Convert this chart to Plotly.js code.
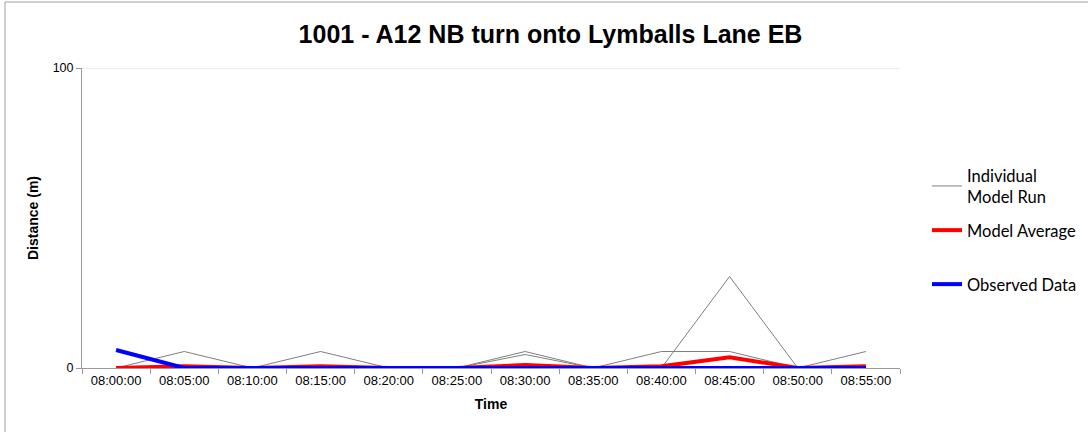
<!DOCTYPE html>
<html>
<head>
<meta charset="utf-8">
<script src="https://cdn.plot.ly/plotly-3.0.1.min.js"></script>
<style>html,body{margin:0;padding:0;background:#fff;}#chart{width:1088px;height:432px;}</style>
</head>
<body>
<div id="chart"></div>
<script>
const times = ["08:00:00","08:05:00","08:10:00","08:15:00","08:20:00","08:25:00","08:30:00","08:35:00","08:40:00","08:45:00","08:50:00","08:55:00"];
const run1 = [0,5.5,0,0,0,0,5.5,0,0,0,0,0];
const run2 = [0,0,0,5.5,0,0,0,0,0,0,0,0];
const run3 = [0,0,0,0,0,0,4.5,0,5.5,5.5,0,0];
const run4 = [0,0,0,0,0,0,0,0,0,30.5,0,5.5];
const run5 = [0,0,0,0,0,0,0,0,0,0,0,0];
const run6 = [0,0,0,0,0,0,0,0,0,0,0,0];
const run7 = [0,0,0,0,0,0,0,0,0,0,0,0];
const run8 = [0,0,0,0,0,0,0,0,0,0,0,0];
const run9 = [0,0,0,0,0,0,0,0,0,0,0,0];
const run10 = [0,0,0,0,0,0,0,0,0,0,0,0];
const modelAverage = [0,0.55,0,0.55,0,0,1.0,0,0.55,3.6,0,0.55];
const observed = [6,0,0,0,0,0,0,0,0,0,0,0];
const yTicks = [0,100];
const runs = [run1,run2,run3,run4,run5,run6,run7,run8,run9,run10];

const traces = runs.map((r,i)=>({
  x: times, y: r, type:'scatter', mode:'lines',
  name:'Individual<br>Model Run', legend:'legend', showlegend: i===0,
  line:{color:'#7f7f7f', width:1}
}));
traces.push({x:times, y:modelAverage, type:'scatter', mode:'lines', name:'Model Average', legend:'legend2', line:{color:'#ff0000', width:4}});
traces.push({x:times, y:observed, type:'scatter', mode:'lines', name:'Observed Data', legend:'legend3', line:{color:'#0000ff', width:4}});

const legFont = {family:'Lato, Noto Sans', size:16.5, color:'#000'};
const legBase = {x:1.033, xanchor:'left', yanchor:'top', font:legFont, bgcolor:'rgba(0,0,0,0)'};
const axFont = {family:'Liberation Sans, Arial', size:13, color:'#000'};
const titleFont = {family:'Liberation Sans, Arial', size:14, color:'#000'};

const layout = {
  width:1088, height:432,
  margin:{l:82, r:188, t:68, b:64, autoexpand:false},
  paper_bgcolor:'#fff', plot_bgcolor:'#fff',
  title:{text:'<b>1001 - A12 NB turn onto Lymballs Lane EB</b>', font:{family:'Liberation Sans, Arial', size:25, color:'#000'}, xref:'container', x:0.506, xanchor:'center', yref:'container', y:1-34/432, yanchor:'middle'},
  xaxis:{type:'category', range:[-0.5, times.length-0.5], tickson:'boundaries', ticks:'outside', ticklen:5, tickcolor:'#9a9a9a',
    showline:true, linecolor:'#9a9a9a', linewidth:1, showgrid:false, zeroline:false,
    tickfont:axFont,
    title:{text:'<b>Time</b>', font:titleFont, standoff:12}},
  yaxis:{range:[0,100], tickvals:yTicks, ticks:'outside', ticklen:5, tickcolor:'#9a9a9a',
    showline:true, linecolor:'#9a9a9a', linewidth:1, showgrid:true, gridcolor:'#d9d9d9', zeroline:false,
    tickfont:{family:'Liberation Sans, Arial', size:12.5, color:'#000'},
    title:{text:'<b>Distance (m)</b>', font:titleFont, standoff:10}},
  legend:Object.assign({}, legBase, {y:0.70}),
  legend2:Object.assign({}, legBase, {y:0.517}),
  legend3:Object.assign({}, legBase, {y:0.337}),
  shapes:[
    {type:'rect', xref:'paper', yref:'paper', x0:-77/818, x1:1.25, y0:-0.3, y1:(432-2-64)/300, line:{color:'#a0a0a0', width:1}, fillcolor:'rgba(0,0,0,0)', layer:'below'},
    {type:'line', xref:'paper', yref:'y', x0:0, x1:1, y0:yTicks[1], y1:yTicks[1], line:{color:'#d9d9d9', width:1}, layer:'below'}
  ],
  showlegend:true
};
Plotly.newPlot('chart', traces, layout, {displayModeBar:false, staticPlot:true});
</script>
</body>
</html>
